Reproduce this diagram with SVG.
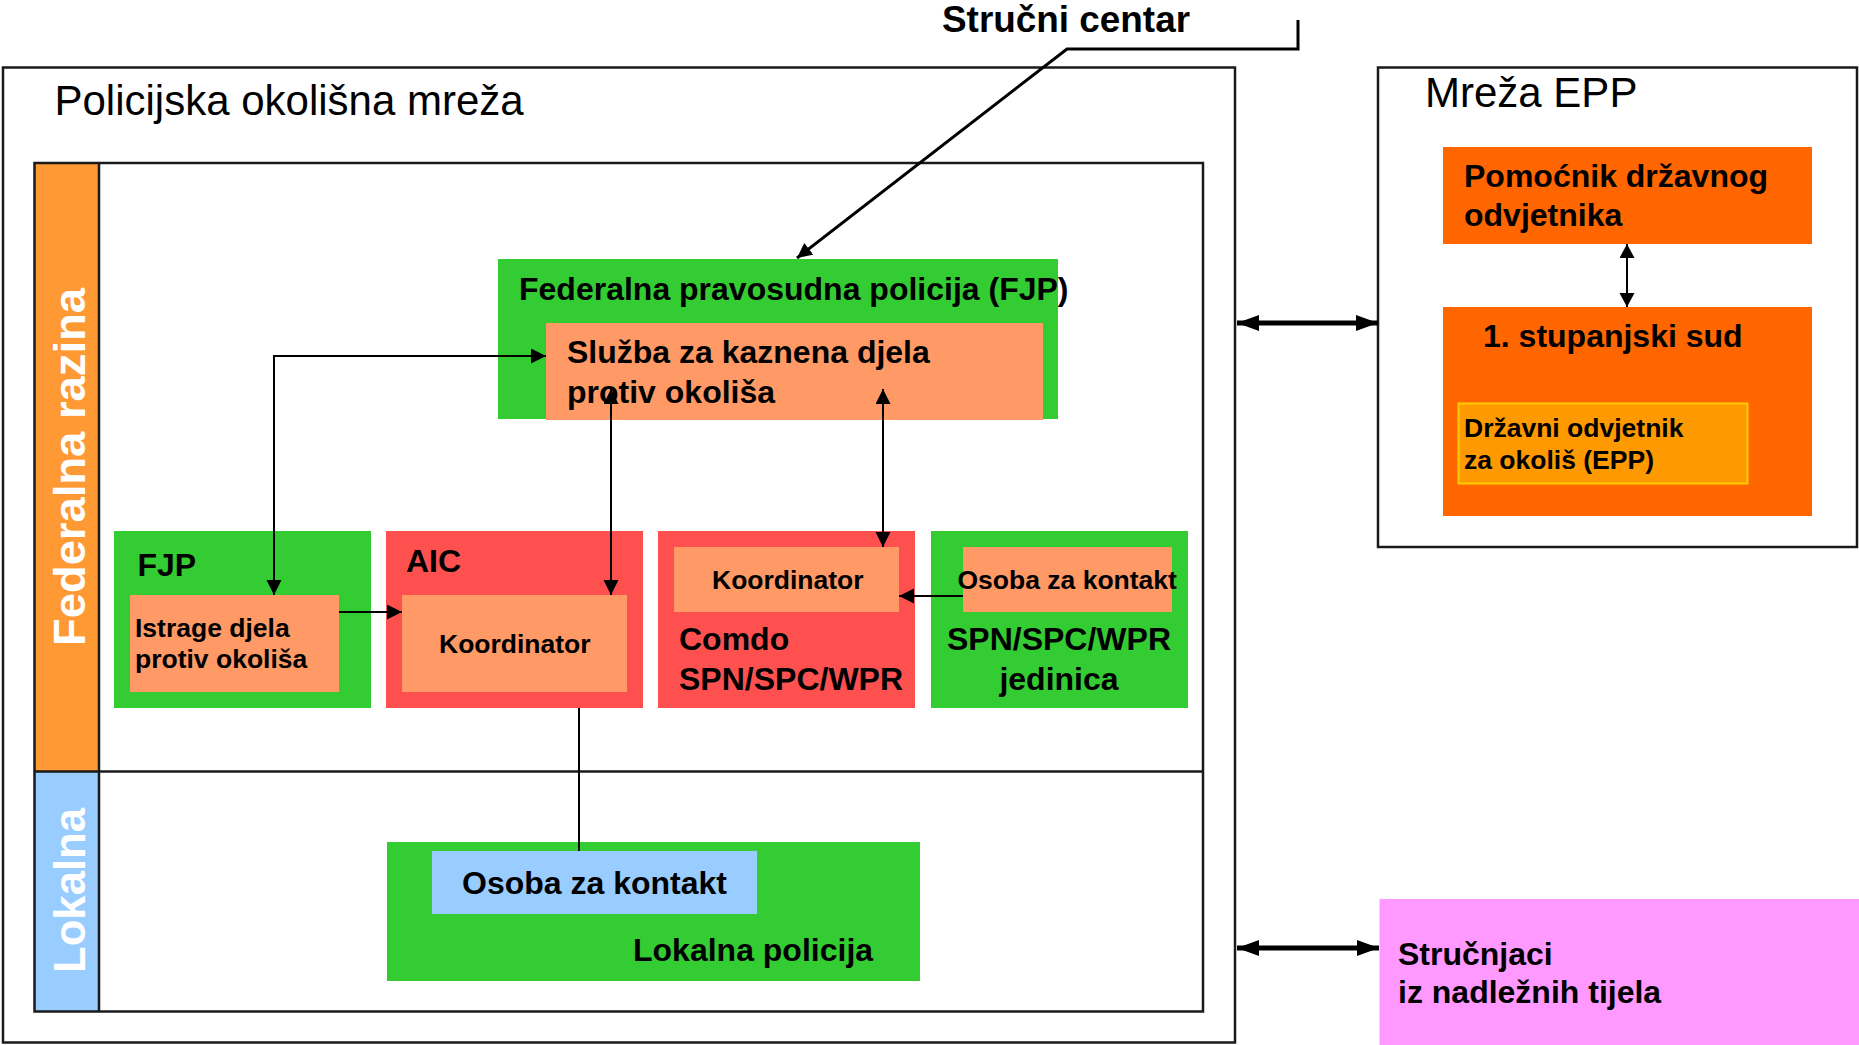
<svg xmlns="http://www.w3.org/2000/svg" width="1859" height="1045" viewBox="0 0 1859 1045">
<style>
text{font-family:"Liberation Sans",Arial,sans-serif;fill:#000}
.b{font-weight:bold}
.frame{fill:none;stroke:#1a1a1a;stroke-width:2.5}
.green{fill:#33CC33}
.red{fill:#FF5050}
.salmon{fill:#FF9966}
.epp{fill:#FF6600}
.con{fill:none;stroke:#000;stroke-width:2}
.thick{fill:none;stroke:#000;stroke-width:5}
.big{font-size:32px;font-weight:bold}
.small{font-size:26.5px;font-weight:bold}
.vert{font-size:45px;font-weight:bold;fill:#fff}
</style>
<defs>
<marker id="ah" markerUnits="userSpaceOnUse" viewBox="0 0 16 16" markerWidth="16" markerHeight="16" refX="15" refY="7.5" orient="auto-start-reverse"><path d="M0,0 L15,7.5 L0,15 z" fill="#000"/></marker>
<marker id="ahs" markerUnits="userSpaceOnUse" viewBox="0 0 16 16" markerWidth="16" markerHeight="16" refX="14" refY="7.5" orient="auto-start-reverse"><path d="M0,0 L14,7.5 L0,15 z" fill="#000"/></marker>
<marker id="aht" markerUnits="userSpaceOnUse" viewBox="0 0 24 18" markerWidth="24" markerHeight="18" refX="22" refY="8" orient="auto-start-reverse"><path d="M0,0 L22,8 L0,16 z" fill="#000"/></marker>
</defs>
<rect width="1859" height="1045" fill="#fff"/>

<g id="policijska-mreza">
<rect class="frame" x="3" y="67.5" width="1232" height="975"/>
<text x="54.5" y="115" font-size="42">Policijska okolišna mreža</text>
</g>

<g id="razine">
<rect x="34.5" y="163" width="64.5" height="608.5" fill="#FF9933"/>
<rect x="34.5" y="771.5" width="64.5" height="240" fill="#99CCFF"/>
<rect class="frame" x="34.5" y="163" width="1168.5" height="848.5"/>
<line class="frame" x1="99" y1="163" x2="99" y2="1011.5"/>
<line class="frame" x1="34.5" y1="771.5" x2="1203" y2="771.5"/>
<text class="vert" transform="translate(85,646) rotate(-90)" textLength="358" lengthAdjust="spacingAndGlyphs">Federalna razina</text>
<text class="vert" transform="translate(85,973) rotate(-90)" textLength="165" lengthAdjust="spacingAndGlyphs">Lokalna</text>
</g>

<g id="fjp-federalna">
<rect class="green" x="498" y="259" width="560" height="160"/>
<text class="big" x="519" y="300">Federalna pravosudna policija (FJP)</text>
</g>

<g id="sluzba">
<rect class="salmon" x="546" y="323" width="497" height="97"/>
<text class="big" x="567" y="363">Služba za kaznena djela</text>
<text class="big" x="567" y="403">protiv okoliša</text>
</g>

<g id="fjp">
<rect class="green" x="114" y="531" width="257" height="177"/>
<text class="big" x="137.5" y="576">FJP</text>
</g>

<g id="istrage">
<rect class="salmon" x="130" y="595" width="209" height="97"/>
<text class="small" x="135" y="637">Istrage djela</text>
<text class="small" x="135" y="668">protiv okoliša</text>
</g>

<g id="aic">
<rect class="red" x="386" y="531" width="257" height="177"/>
<text class="big" x="406" y="572">AIC</text>
</g>

<g id="aic-koordinator">
<rect class="salmon" x="402" y="595" width="225" height="97"/>
<text class="small" x="439" y="653">Koordinator</text>
</g>

<g id="comdo">
<rect class="red" x="658" y="531" width="257" height="177"/>
<text class="big" x="679" y="650">Comdo</text>
<text class="big" x="679" y="690">SPN/SPC/WPR</text>
</g>

<g id="comdo-koordinator">
<rect class="salmon" x="674" y="547" width="225" height="65"/>
<text class="small" x="712" y="589">Koordinator</text>
</g>

<g id="spn-jedinica">
<rect class="green" x="931" y="531" width="257" height="177"/>
<text class="big" x="1059" y="650" text-anchor="middle">SPN/SPC/WPR</text>
<text class="big" x="1059" y="690" text-anchor="middle">jedinica</text>
</g>

<g id="spn-osoba">
<rect class="salmon" x="963" y="547" width="209" height="65"/>
<text class="small" x="957.5" y="589">Osoba za kontakt</text>
</g>

<g id="lokalna-policija">
<rect class="green" x="387" y="842" width="533" height="139"/>
<text class="big" x="633" y="961">Lokalna policija</text>
</g>

<g id="lokalna-osoba">
<rect x="432" y="851" width="325" height="63" fill="#99CCFF"/>
<text class="big" x="462" y="894">Osoba za kontakt</text>
</g>

<g id="strucni-centar">
<text x="942" y="32" font-size="36" font-weight="bold" textLength="248" lengthAdjust="spacingAndGlyphs">Stručni centar</text>
</g>

<g id="mreza-epp">
<rect class="frame" x="1378" y="67.5" width="479" height="479.5"/>
<text x="1425" y="107" font-size="42">Mreža EPP</text>
</g>

<g id="pomocnik">
<rect class="epp" x="1443" y="147" width="369" height="97"/>
<text class="big" x="1464" y="187">Pomoćnik državnog</text>
<text class="big" x="1464" y="226">odvjetnika</text>
</g>

<g id="stupanjski-sud">
<rect class="epp" x="1443" y="307" width="369" height="209"/>
<text class="big" x="1483" y="347">1. stupanjski sud</text>
</g>

<g id="drzavni-odvjetnik">
<rect x="1458.5" y="403.5" width="289" height="80" fill="#FF9900" stroke="#FFCC00" stroke-width="2"/>
<text class="small" x="1464" y="437">Državni odvjetnik</text>
<text class="small" x="1464" y="469">za okoliš (EPP)</text>
</g>

<g id="strucnjaci">
<rect x="1379.5" y="899" width="479.5" height="146" fill="#FF99FF"/>
<text class="big" x="1398" y="965">Stručnjaci</text>
<text class="big" x="1398" y="1003">iz nadležnih tijela</text>
</g>

<g id="connectors">
<polyline fill="none" stroke="#000" stroke-width="3" points="1298,20 1298,49 1067,49 797,258" marker-end="url(#ah)"/>
<polyline class="con" points="274,595 274,356 546,356" marker-start="url(#ah)" marker-end="url(#ah)"/>
<line class="con" x1="611" y1="389" x2="611" y2="595" marker-start="url(#ah)" marker-end="url(#ah)"/>
<line class="con" x1="883" y1="389" x2="883" y2="547" marker-start="url(#ah)" marker-end="url(#ah)"/>
<line class="con" x1="339" y1="612" x2="402" y2="612" marker-end="url(#ah)"/>
<line class="con" x1="963" y1="596" x2="899" y2="596" marker-end="url(#ah)"/>
<line class="con" x1="579" y1="708" x2="579" y2="851"/>
<line class="con" x1="1627" y1="244" x2="1627" y2="307" marker-start="url(#ahs)" marker-end="url(#ahs)"/>
<line class="thick" x1="1237" y1="323" x2="1378" y2="323" marker-start="url(#aht)" marker-end="url(#aht)"/>
<line class="thick" x1="1237" y1="948" x2="1379" y2="948" marker-start="url(#aht)" marker-end="url(#aht)"/>
</g>
</svg>
